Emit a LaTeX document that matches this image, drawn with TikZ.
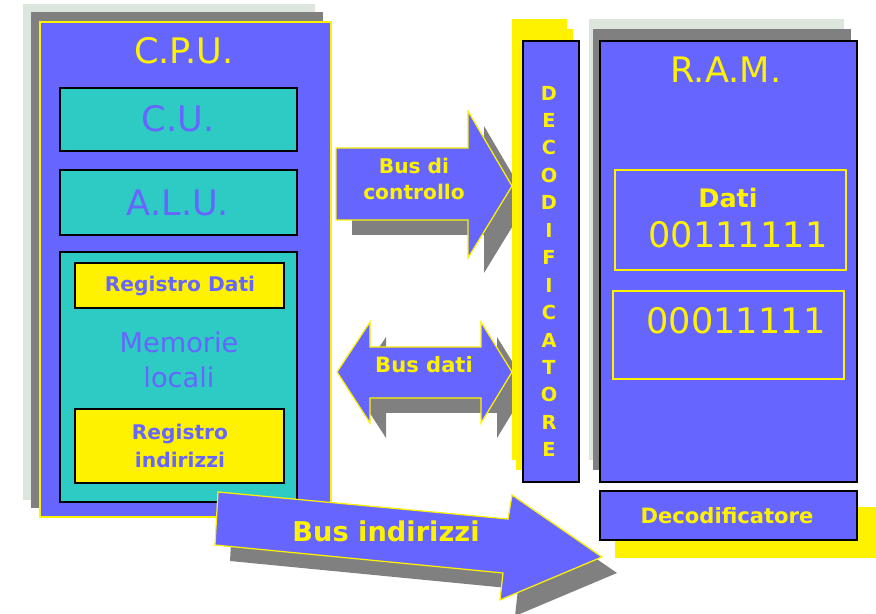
\documentclass[tikz,border=0pt]{standalone}
\usepackage{fontspec}
\setmainfont{DejaVu Sans}
\usetikzlibrary{positioning}
\definecolor{cpublue}{RGB}{102,102,255}
\definecolor{cuteal}{RGB}{46,202,196}
\definecolor{darkshade}{RGB}{128,128,128}
\definecolor{paleshade}{RGB}{221,230,221}
\begin{document}
\begin{tikzpicture}[x=0.02cm,y=-0.02cm,
  block/.style={fill=cpublue,draw=black,line width=0.9pt},
  unitbox/.style={fill=cuteal,draw=black,line width=0.9pt},
  regbox/.style={fill=yellow,draw=black,line width=0.9pt},
  bus/.style={fill=cpublue,draw=yellow,line width=0.7pt},
  cell/.style={draw=yellow,line width=0.7pt},
  title/.style={text=yellow,font=\fontsize{20}{24}\selectfont},
  unitlabel/.style={text=cpublue,font=\fontsize{20}{24}\selectfont},
  buslabel/.style={text=yellow,align=center,font=\bfseries\fontsize{11.5}{14.8}\selectfont},
  reglabel/.style={text=cpublue,align=center,font=\bfseries\fontsize{11.5}{16}\selectfont},
  letter/.style={text=yellow,inner sep=0pt,font=\bfseries\fontsize{11}{12}\selectfont}]
\useasboundingbox (0,0) rectangle (876,614);
\fill[paleshade] (23,4) rectangle (315,500);
\fill[darkshade] (31,12) rectangle (323,508);
\filldraw[fill=cpublue,draw=yellow,line width=0.7pt] (40,22) rectangle (331,517);
\draw[unitbox] (60,88) rectangle (297,151);
\draw[unitbox] (60,170) rectangle (297,235);
\draw[unitbox] (60,252) rectangle (297,502);
\draw[regbox] (75,263) rectangle (284,308);
\draw[regbox] (75,409) rectangle (284,483);
\node[title] (cpu) at (184,51) {C.P.U.};
\node[unitlabel] (cu) at (178,119) {C.U.};
\node[unitlabel] (alu) at (178,203) {A.L.U.};
\node[reglabel] (regdati) at (180,286) {Registro Dati};
\node[text=cpublue,align=center,font=\fontsize{15.5}{20}\selectfont] (memorie) at (179,360) {Memorie\\locali};
\node[reglabel] (regind) at (180,446) {Registro\\indirizzi};

\fill[darkshade,shift={(16,15)}] (336,148) -- (468,148) -- (468,111) -- (512,186) -- (468,258) -- (468,220) -- (336,220) -- cycle;
\draw[bus] (336,148) -- (468,148) -- (468,111) -- (512,186) -- (468,258) -- (468,220) -- (336,220) -- cycle;
\node[buslabel] (ctrl) at (414,179) {Bus di\\controllo};

\fill[darkshade,shift={(16,15)}] (337,372) -- (370,322) -- (370,347) -- (481,347) -- (481,322) -- (512,372) -- (481,423) -- (481,398) -- (370,398) -- (370,423) -- cycle;
\draw[bus] (337,372) -- (370,322) -- (370,347) -- (481,347) -- (481,322) -- (512,372) -- (481,423) -- (481,398) -- (370,398) -- (370,423) -- cycle;
\node[buslabel,font=\bfseries\fontsize{12}{14}\selectfont] (datibus) at (424,365) {Bus dati};

\fill[darkshade,shift={(15,16)}] (218,492) -- (508,519) -- (512,495) -- (602,557) -- (500,600) -- (503,573) -- (215,545) -- cycle;
\draw[bus] (218,492) -- (508,519) -- (512,495) -- (602,557) -- (500,600) -- (503,573) -- (215,545) -- cycle;
\node[buslabel,font=\bfseries\fontsize{15.5}{18}\selectfont] (indbus) at (386,531) {Bus indirizzi};

\fill[yellow] (512,19) rectangle (567,460);
\fill[yellow] (516,29) rectangle (573,470);
\draw[block] (523,41) rectangle (579,482);
\foreach \l [count=\i from 0] in {D,E,C,O,D,I,F,I,C,A,T,O,R,E}
  \node[letter] (dec-\i) at (549,{93+27.45*\i}) {\l};

\fill[paleshade] (589,19) rectangle (844,460);
\fill[darkshade] (593,29) rectangle (851,470);
\draw[block] (600,41) rectangle (857,482);
\draw[cell] (615,170) rectangle (846,270);
\draw[cell] (613,291) rectangle (844,379);
\fill[yellow] (615,507) rectangle (876,558);
\draw[block] (600,491) rectangle (857,540);
\node[title] (ram) at (726,70) {R.A.M.};
\node[text=yellow,font=\bfseries\fontsize{14.5}{16}\selectfont] (dati) at (728,198) {Dati};
\node[title] (word1) at (738,235) {00111111};
\node[title] (word2) at (736,321) {00011111};
\node[text=yellow,font=\bfseries\fontsize{12}{14}\selectfont] (decod) at (727,516) {Decodificatore};
\end{tikzpicture}
\end{document}
